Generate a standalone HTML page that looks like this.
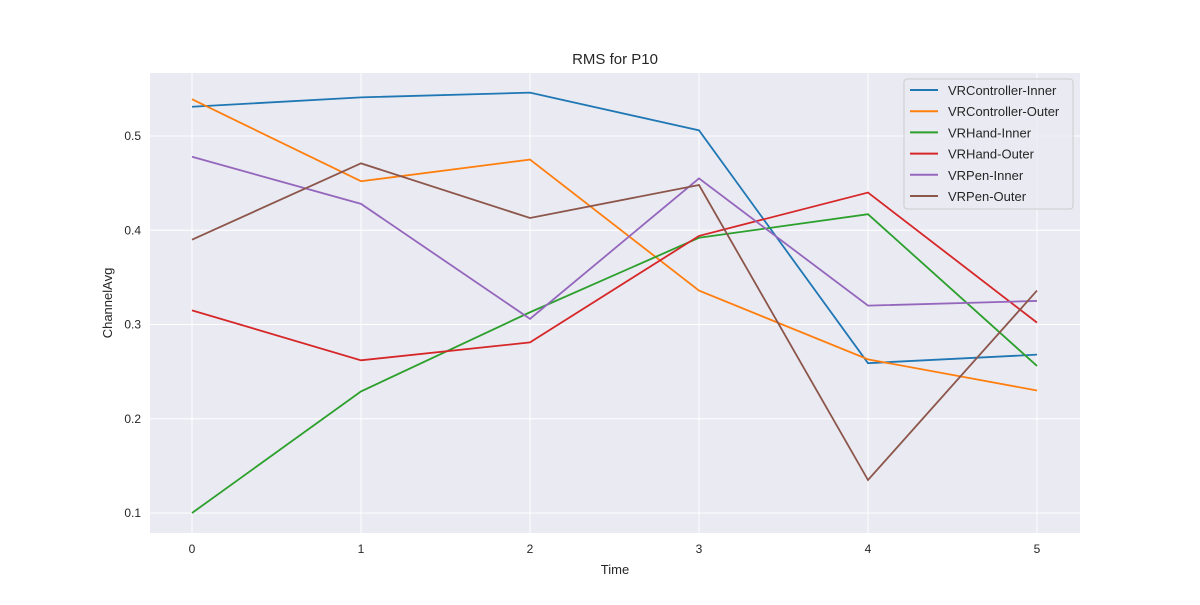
<!DOCTYPE html>
<html><head><meta charset="utf-8"><style>
body{margin:0;background:#fff;}
svg{font-family:"Liberation Sans","DejaVu Sans",sans-serif;}
</style></head><body>
<svg id="chart" width="1200" height="600"></svg>
<script>
const categories=[0,1,2,3,4,5];
const seriesNames=["VRController-Inner","VRController-Outer","VRHand-Inner","VRHand-Outer","VRPen-Inner","VRPen-Outer"];
const colors=["#1f77b4","#ff7f0e","#2ca02c","#d62728","#9467bd","#8c564b"];
const vrcInner=[0.531,0.541,0.546,0.506,0.259,0.268];
const vrcOuter=[0.539,0.452,0.475,0.336,0.263,0.230];
const handInner=[0.100,0.229,0.313,0.392,0.417,0.256];
const handOuter=[0.315,0.262,0.281,0.394,0.440,0.302];
const penInner=[0.478,0.428,0.306,0.455,0.320,0.325];
const penOuter=[0.390,0.471,0.413,0.448,0.135,0.336];
const series=[vrcInner,vrcOuter,handInner,handOuter,penInner,penOuter];
const yTicks=[0.1,0.2,0.3,0.4,0.5];

const NS="http://www.w3.org/2000/svg";
const svg=document.getElementById('chart');
function mk(t,a,p){const e=document.createElementNS(NS,t);for(const k in a)e.setAttribute(k,a[k]);(p||svg).appendChild(e);return e;}
const L=150,R=1080,T=73,B=533;
const xS=v=>192+(v-0)*(1037-192)/5;
const yS=v=>513-(v-0.1)*(513-136)/0.4;

const bg=mk('rect',{x:L,y:T,width:R-L,height:B-T,fill:'#eaeaf2'});


categories.forEach(c=>{
  const g=mk('line',{x1:xS(c),x2:xS(c),y1:T,y2:B,stroke:'#fff','stroke-width':1});
  
  
  const t=mk('text',{x:xS(c),y:553,'text-anchor':'middle','font-size':12,fill:'#262626'});
  t.textContent=c;
  
  
});
yTicks.forEach(v=>{
  const g=mk('line',{x1:L,x2:R,y1:yS(v),y2:yS(v),stroke:'#fff','stroke-width':1});
  
  
  const t=mk('text',{x:141,y:yS(v)+4,'text-anchor':'end','font-size':12,fill:'#262626'});
  t.textContent=v.toFixed(1);
  
  
});
series.forEach((s,i)=>{
  const p=mk('polyline',{points:s.map((v,j)=>xS(categories[j])+','+yS(v)).join(' '),fill:'none',stroke:colors[i],'stroke-width':1.8});
  
  
});
const title=mk('text',{x:615,y:64,'text-anchor':'middle','font-size':15,fill:'#262626'});
title.textContent='RMS for P10';


const xt=mk('text',{x:615,y:574,'text-anchor':'middle','font-size':13,fill:'#262626'});
xt.textContent='Time';


const yt=mk('text',{x:112,y:303,'text-anchor':'middle','font-size':13,fill:'#262626',transform:'rotate(-90 112 303)'});
yt.textContent='ChannelAvg';


const lg=mk('rect',{x:904,y:79,width:169,height:130,fill:'#eaeaf2',stroke:'#ccc',rx:3,'fill-opacity':0.8});


seriesNames.forEach((n,i)=>{
  const y=90+i*21.2;
  const l=mk('line',{x1:910,x2:938,y1:y,y2:y,stroke:colors[i],'stroke-width':2});
  
  
  const t=mk('text',{x:948,y:y+5,'font-size':13,fill:'#262626'});
  t.textContent=n;
  
  
});
</script>
</body></html>
